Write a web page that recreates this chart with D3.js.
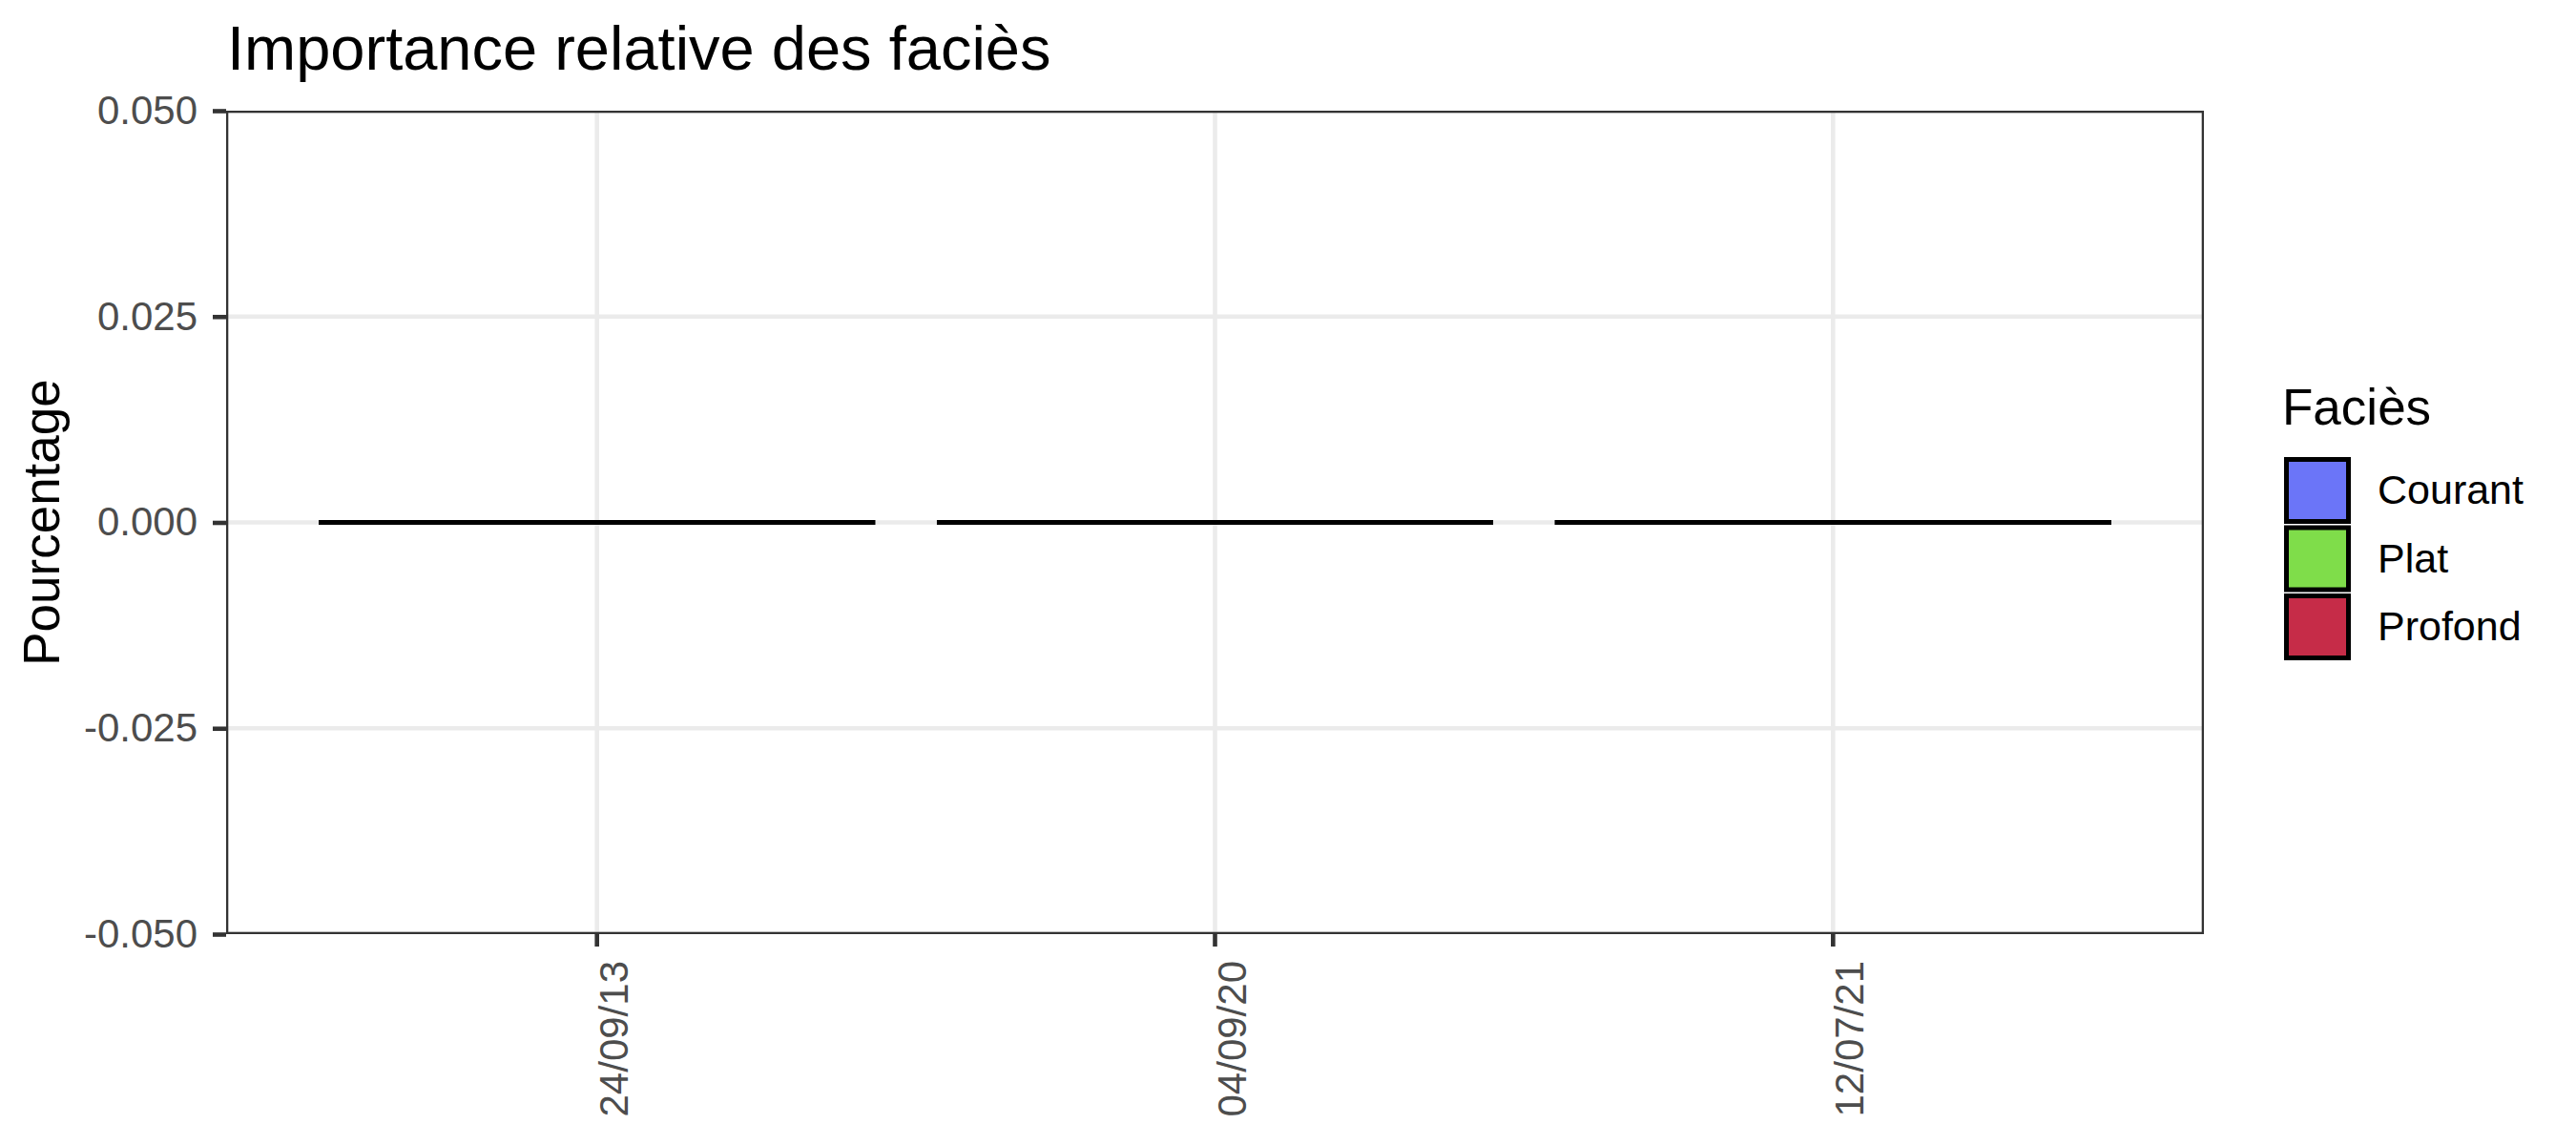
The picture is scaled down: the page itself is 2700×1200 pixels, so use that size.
<!DOCTYPE html>
<html>
<meta charset="utf-8">
<style>
  body { margin: 0; background: #fff; }
  svg { display: block; font-family: "Liberation Sans", Arial, sans-serif; }
  .grid line { stroke: #ebebeb; stroke-width: 4.6; }
</style>
<body>
  <svg width="2700" height="1200"></svg>
</body>

<script src="https://d3js.org/d3.v7.min.js"></script>

<script>

// data
var dates = ["24/09/13", "04/09/20", "12/07/21"];
var series = ["Courant", "Plat", "Profond"];
var courant = [0, 0, 0];
var plat = [0, 0, 0];
var profond = [0, 0, 0];
var colors = ["#6b75f8", "#7fdd4a", "#c62c48"];
var yTicks = [-0.05, -0.025, 0, 0.025, 0.05];
var yTickLabels = ["-0.050", "-0.025", "0.000", "0.025", "0.050"];

var panel = {left: 237, right: 2310, top: 116, bottom: 979};

var svg = d3.select("svg");

var rows = dates.map(function(d, i) {
  return {date: d, Courant: courant[i], Plat: plat[i], Profond: profond[i]};
});

var stack = d3.stack().keys(series);
var stacked = stack(rows);

var x = d3.scaleBand()
  .domain(dates)
  .range([panel.left, panel.right])
  .paddingInner(0.1)
  .paddingOuter(0.15);

var y = d3.scaleLinear()
  .domain([-0.05, 0.05])
  .range([panel.bottom, panel.top]);

var color = d3.scaleOrdinal().domain(series).range(colors);

// clip for panel
svg.append("defs").append("clipPath").attr("id", "panelClip")
  .append("rect")
  .attr("x", panel.left).attr("y", panel.top)
  .attr("width", panel.right - panel.left)
  .attr("height", panel.bottom - panel.top);

// grid
var grid = svg.append("g").attr("class", "grid").attr("clip-path", "url(#panelClip)");
grid.selectAll(".hy").data(yTicks).enter().append("line")
  .attr("x1", panel.left).attr("x2", panel.right)
  .attr("y1", function(d) { return y(d); })
  .attr("y2", function(d) { return y(d); });
grid.selectAll(".vx").data(dates).enter().append("line")
  .attr("y1", panel.top).attr("y2", panel.bottom)
  .attr("x1", function(d) { return x(d) + x.bandwidth() / 2; })
  .attr("x2", function(d) { return x(d) + x.bandwidth() / 2; });

// bars (zero height -> drawn as path so the outline still shows)
svg.append("g").attr("clip-path", "url(#panelClip)")
  .selectAll("g").data(stacked).enter().append("g")
    .attr("fill", function(d) { return color(d.key); })
  .selectAll("path").data(function(d) { return d; }).enter().append("path")
    .attr("d", function(d) {
      var x0 = x(d.data.date), x1 = x0 + x.bandwidth();
      var y0 = y(d[0]), y1 = y(d[1]);
      return "M" + x0 + "," + y0 + "H" + x1 + "V" + y1 + "H" + x0 + "Z";
    })
    .attr("stroke", "#000")
    .attr("stroke-width", 5)
    .attr("stroke-linejoin", "miter");

// panel border
svg.append("rect")
  .attr("x", panel.left).attr("y", panel.top)
  .attr("width", panel.right - panel.left)
  .attr("height", panel.bottom - panel.top)
  .attr("fill", "none")
  .attr("stroke", "#333333")
  .attr("stroke-width", 4.6)
  .attr("clip-path", "url(#panelClip)");

// axes
var yAxis = d3.axisLeft(y)
  .tickValues(yTicks)
  .tickFormat(function(d, i) { return yTickLabels[i]; })
  .tickSize(14)
  .tickPadding(16);

var gy = svg.append("g")
  .attr("transform", "translate(" + panel.left + ",0)")
  .call(yAxis);
gy.select(".domain").remove();
gy.selectAll(".tick line").attr("stroke", "#333333").attr("stroke-width", 4.6);
gy.selectAll(".tick text")
  .attr("fill", "#4d4d4d")
  .style("font-size", "42px")
  .style("font-family", "Liberation Sans, Arial, sans-serif");

var xAxis = d3.axisBottom(x).tickSize(13);

var gx = svg.append("g")
  .attr("transform", "translate(0," + panel.bottom + ")")
  .call(xAxis);
gx.select(".domain").remove();
gx.selectAll(".tick line").attr("stroke", "#333333").attr("stroke-width", 4.6);
gx.selectAll(".tick text")
  .attr("fill", "#4d4d4d")
  .style("font-size", "42px")
  .style("font-family", "Liberation Sans, Arial, sans-serif")
  .attr("dy", null)
  .attr("y", 0)
  .attr("text-anchor", "end")
  .attr("transform", "translate(32,28) rotate(-90)");

// titles
svg.append("text")
  .attr("x", 238).attr("y", 73)
  .style("font-size", "65px")
  .text("Importance relative des faciès");

svg.append("text")
  .attr("transform", "translate(62," + (panel.top + panel.bottom) / 2 + ") rotate(-90)")
  .attr("text-anchor", "middle")
  .style("font-size", "53px")
  .text("Pourcentage");

// legend
var legend = svg.append("g");
legend.append("text")
  .attr("x", 2392).attr("y", 445)
  .style("font-size", "53px")
  .text("Faciès");

var ky = d3.scaleBand().domain(series).range([479, 479 + 3 * 71.5]);

var keys = legend.selectAll(".key").data(series).enter().append("g");
keys.append("rect")
  .attr("x", 2396.5)
  .attr("y", function(d) { return ky(d) + 2.5; })
  .attr("width", 65).attr("height", 65)
  .attr("fill", function(d) { return color(d); })
  .attr("stroke", "#000").attr("stroke-width", 5);
keys.append("text")
  .attr("x", 2492)
  .attr("y", function(d) { return ky(d) + 35 + 14; })
  .style("font-size", "43px")
  .text(function(d) { return d; });

</script>
</html>
